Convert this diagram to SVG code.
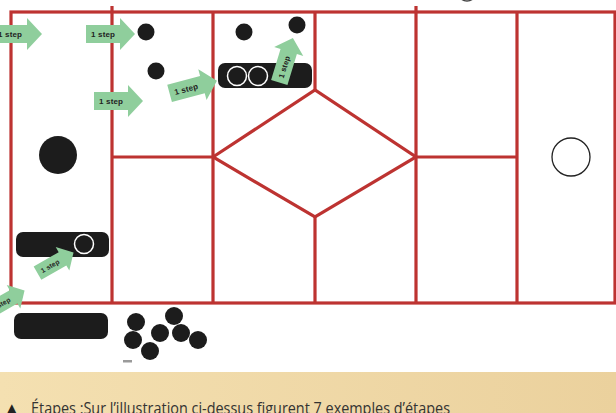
<svg xmlns="http://www.w3.org/2000/svg" width="616" height="413" viewBox="0 0 616 413">
<defs>
<linearGradient id="band" x1="0" y1="0" x2="1" y2="0">
<stop offset="0" stop-color="#f4e0b1"/>
<stop offset="1" stop-color="#ebd19d"/>
</linearGradient>
<path id="arr" d="M-17,-9 H17 V-16 L32,0 L17,16 V9 H-17 Z"/>
</defs>
<style>
.grid{fill:none;stroke:#bd3331;stroke-width:3.2;stroke-linejoin:miter}
.blk{fill:#1c1c1c}
.wc{fill:none;stroke:#ffffff;stroke-width:1.5}
.ga{fill:#8fce9c}
.gt{font-family:"Liberation Sans",Arial,sans-serif;font-weight:bold;font-size:8px;fill:#222}
.cap{font-family:"Open Sans","Noto Sans",sans-serif;font-size:15.5px;fill:#333}
</style>
<rect x="0" y="0" width="616" height="413" fill="#ffffff"/>
<rect x="0" y="372" width="616" height="41" fill="url(#band)"/>
<text x="6" y="414" style="font-family:'DejaVu Sans',sans-serif;font-size:15px;fill:#222">▲</text>
<text class="cap" x="31" y="414" textLength="419" lengthAdjust="spacingAndGlyphs">Étapes :Sur l’illustration ci-dessus figurent 7 exemples d’étapes</text>
<rect x="123" y="360" width="9" height="2.5" fill="#9a9a9a"/>
<circle cx="467" cy="-8" r="9" fill="none" stroke="#444" stroke-width="1.5"/>

<g id="grid">
<rect class="grid" x="11" y="12" width="604" height="291"/>
<path class="grid" d="M112,6 V303 M213,12 V303 M416,6 V303 M517,12 V303 M315,12 V90 M315,217 V303 M112,157 H213 M416,157 H517"/>
<path id="diamond" class="grid" d="M213,157 L315,90 L416,157 L315,217 Z"/>
</g>

<g id="pieces">
<circle id="bigdot" class="blk" cx="58" cy="155" r="19"/>
<circle id="ring-right" cx="571" cy="157" r="19" fill="#fff" stroke="#222" stroke-width="1.3"/>
<g id="capsule-top">
<rect class="blk" x="218" y="63" width="94" height="25" rx="7"/>
<circle class="wc" cx="237" cy="76" r="9.5"/>
<circle class="wc" cx="258" cy="76" r="9.5"/>
</g>
<g id="capsule-left">
<rect class="blk" x="16" y="232" width="93" height="25" rx="7"/>
<circle class="wc" cx="84" cy="244" r="9.5"/>
</g>
<rect id="capsule-bottom" class="blk" x="14" y="313" width="94" height="26" rx="7"/>
<g id="dots">
<circle class="blk" cx="146" cy="32" r="8.5"/>
<circle class="blk" cx="156" cy="71" r="8.5"/>
<circle class="blk" cx="244" cy="32" r="8.5"/>
<circle class="blk" cx="297" cy="25" r="8.5"/>
</g>
<g id="cluster">
<circle class="blk" cx="136" cy="322" r="9"/>
<circle class="blk" cx="133" cy="340" r="9"/>
<circle class="blk" cx="150" cy="351" r="9"/>
<circle class="blk" cx="160" cy="333" r="9"/>
<circle class="blk" cx="174" cy="316" r="9"/>
<circle class="blk" cx="181" cy="333" r="9"/>
<circle class="blk" cx="198" cy="340" r="9"/>
</g>
</g>

<g id="arrows">
<g id="a1" transform="translate(10,34)"><use href="#arr" class="ga"/><text class="gt" x="0" y="3" text-anchor="middle" textLength="24">1 step</text></g>
<g id="a2" transform="translate(103,34)"><use href="#arr" class="ga"/><text class="gt" x="0" y="3" text-anchor="middle" textLength="24">1 step</text></g>
<g id="a3" transform="translate(111,101)"><use href="#arr" class="ga"/><text class="gt" x="0" y="3" text-anchor="middle" textLength="24">1 step</text></g>
<g id="a4" transform="translate(186,89) rotate(-15)"><use href="#arr" class="ga"/><text class="gt" x="0" y="3" text-anchor="middle" textLength="24">1 step</text></g>
<g id="a5" transform="translate(284,67) rotate(-73) scale(0.95)"><use href="#arr" class="ga"/><text class="gt" x="0" y="3" text-anchor="middle" textLength="24">1 step</text></g>
<g id="a6" transform="translate(50,266) rotate(-30) scale(0.85)"><use href="#arr" class="ga"/><text class="gt" x="0" y="3" text-anchor="middle" textLength="24">1 step</text></g>
<g id="a7" transform="translate(1,304) rotate(-30) scale(0.85)"><use href="#arr" class="ga"/><text class="gt" x="0" y="3" text-anchor="middle" textLength="24">1 step</text></g>
</g>
</svg>
